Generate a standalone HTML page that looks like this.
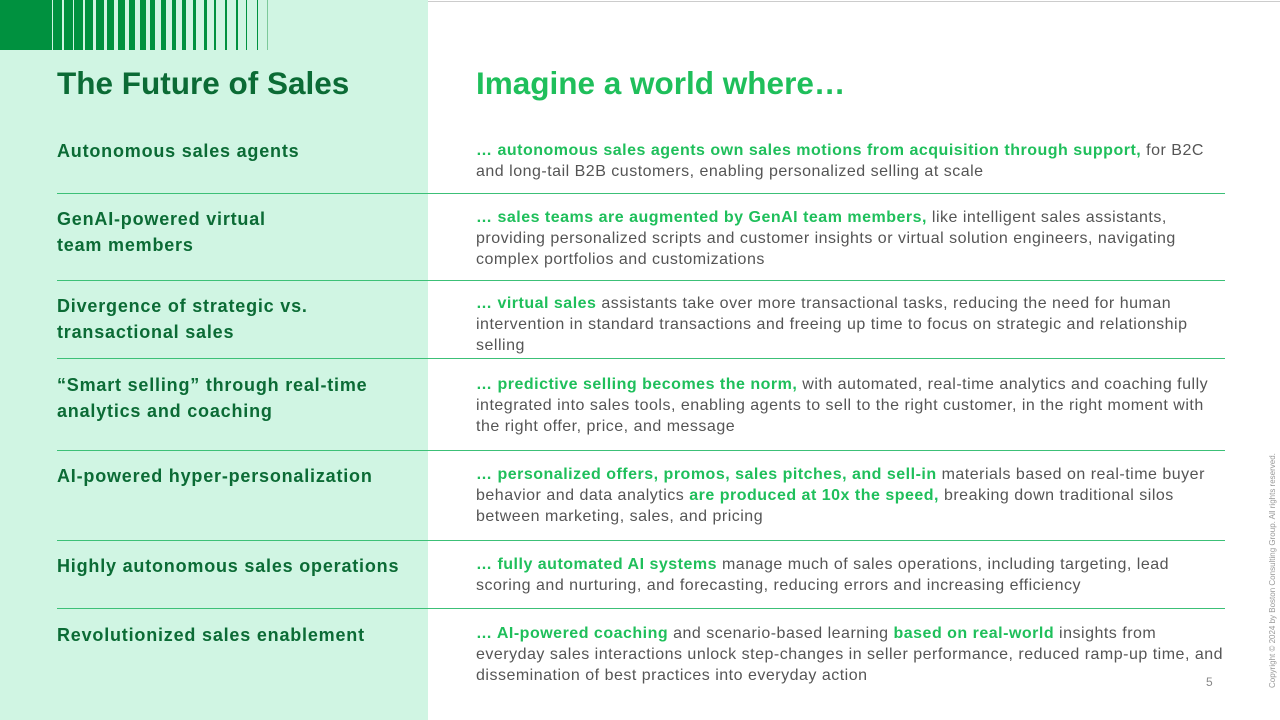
<!DOCTYPE html>
<html><head><meta charset="utf-8"><style>
body{margin:0;width:1280px;height:720px;position:relative;overflow:hidden;background:#fff;font-family:"Liberation Sans",sans-serif}
.panel{position:absolute;left:0;top:0;width:428px;height:720px;background:#d0f5e3}
.topline{position:absolute;left:428px;top:1px;width:852px;height:1px;background:#ccc}
.bar{position:absolute;top:0;height:50px;background:#00913f}
h1{position:absolute;margin:0;font-size:31.5px;font-weight:bold;top:65px;white-space:nowrap}
.l{position:absolute;left:57px;font-size:18px;letter-spacing:0.8px;font-weight:bold;color:#0b6b35;line-height:26px;white-space:nowrap}
.r{position:absolute;left:476px;font-size:16px;color:#555;line-height:21px;white-space:nowrap;letter-spacing:0.5px}
.r b{color:#1fbf5b}
.sep{position:absolute;left:57px;width:1168px;height:1px;background:#3cc077}
.copy{position:absolute;left:1268px;top:688px;transform-origin:0 0;transform:rotate(-90deg);font-size:8px;color:#999;white-space:nowrap}
</style></head><body>
<div class="panel"></div>
<div class="topline"></div>
<div class="bar" style="left:0;width:52px"></div>
<div class="bar" style="left:53px;width:9px"></div>
<div class="bar" style="left:64px;width:8.5px"></div>
<div class="bar" style="left:74px;width:8.5px"></div>
<div class="bar" style="left:85px;width:8px"></div>
<div class="bar" style="left:96px;width:8px"></div>
<div class="bar" style="left:107px;width:7px"></div>
<div class="bar" style="left:118px;width:7px"></div>
<div class="bar" style="left:129px;width:6px"></div>
<div class="bar" style="left:140px;width:6px"></div>
<div class="bar" style="left:150px;width:5px"></div>
<div class="bar" style="left:161px;width:5px"></div>
<div class="bar" style="left:172px;width:4px"></div>
<div class="bar" style="left:182px;width:4px"></div>
<div class="bar" style="left:193px;width:3px"></div>
<div class="bar" style="left:204px;width:3px"></div>
<div class="bar" style="left:214px;width:2px"></div>
<div class="bar" style="left:225px;width:2px"></div>
<div class="bar" style="left:236px;width:1.5px"></div>
<div class="bar" style="left:246px;width:1px"></div>
<div class="bar" style="left:257px;width:1px"></div>
<div class="bar" style="left:267px;width:0.5px;background:#7cc99a"></div>
<h1 style="left:57px;color:#0b6b35">The Future of Sales</h1>
<h1 style="left:476px;color:#1fbf5b">Imagine a world where…</h1>

<div class="l" style="top:138px">Autonomous sales agents</div>
<div class="r" style="top:140px"><b>… autonomous sales agents own sales motions from acquisition through support,</b> for B2C<br>and long-tail B2B customers, enabling personalized selling at scale</div>
<div class="sep" style="top:193px"></div>

<div class="l" style="top:206px">GenAI-powered virtual<br>team members</div>
<div class="r" style="top:207px"><b>… sales teams are augmented by GenAI team members,</b> like intelligent sales assistants,<br>providing personalized scripts and customer insights or virtual solution engineers, navigating<br>complex portfolios and customizations</div>
<div class="sep" style="top:280px"></div>

<div class="l" style="top:293px">Divergence of strategic vs.<br>transactional sales</div>
<div class="r" style="top:293px"><b>… virtual sales</b> assistants take over more transactional tasks, reducing the need for human<br>intervention in standard transactions and freeing up time to focus on strategic and relationship<br>selling</div>
<div class="sep" style="top:358px"></div>

<div class="l" style="top:372px">“Smart selling” through real-time<br>analytics and coaching</div>
<div class="r" style="top:374px"><b>… predictive selling becomes the norm,</b> with automated, real-time analytics and coaching fully<br>integrated into sales tools, enabling agents to sell to the right customer, in the right moment with<br>the right offer, price, and message</div>
<div class="sep" style="top:450px"></div>

<div class="l" style="top:463px">AI-powered hyper-personalization</div>
<div class="r" style="top:464px"><b>… personalized offers, promos, sales pitches, and sell-in</b> materials based on real-time buyer<br>behavior and data analytics <b>are produced at 10x the speed,</b> breaking down traditional silos<br>between marketing, sales, and pricing</div>
<div class="sep" style="top:540px"></div>

<div class="l" style="top:553px">Highly autonomous sales operations</div>
<div class="r" style="top:554px"><b>… fully automated AI systems</b> manage much of sales operations, including targeting, lead<br>scoring and nurturing, and forecasting, reducing errors and increasing efficiency</div>
<div class="sep" style="top:608px"></div>

<div class="l" style="top:622px">Revolutionized sales enablement</div>
<div class="r" style="top:623px"><b>… AI-powered coaching</b> and scenario-based learning <b>based on real-world</b> insights from<br>everyday sales interactions unlock step-changes in seller performance, reduced ramp-up time, and<br>dissemination of best practices into everyday action</div>

<div style="position:absolute;left:1206px;top:675px;font-size:12px;color:#888">5</div>
<div class="copy">Copyright © 2024 by Boston Consulting Group. All rights reserved.</div>
</body></html>
